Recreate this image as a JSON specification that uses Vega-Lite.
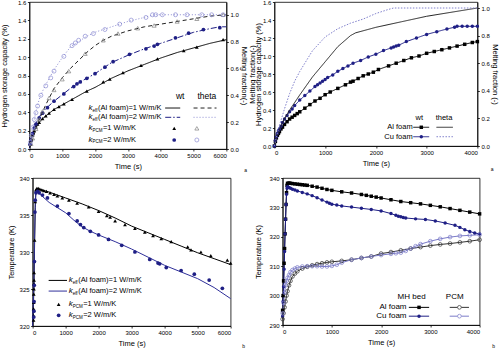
{
"$schema":"https://vega.github.io/schema/vega-lite/v6.json",
"padding":{"left":0,"top":-2,"right":0,"bottom":0},
"background":"white",
"config":{"font":"Liberation Sans","view":{"stroke":"#000","strokeWidth":0.8},
"axis":{"grid":false,"domainColor":"#000","tickColor":"#000","labelColor":"#000","titleColor":"#000","labelFontSize":6,"titleFontSize":7.5,"titleFontWeight":"normal","tickSize":2,"labelPadding":1.5,"titlePadding":4,"domainWidth":0.8,"tickWidth":0.8,"labelFont":"Liberation Sans","titleFont":"Liberation Sans"}},
"datasets":{
"p1wt":[
{"t":0,"v":0,"s":"wt1"},{"t":50,"v":0.1,"s":"wt1"},{"t":100,"v":0.16,"s":"wt1"},{"t":200,"v":0.24,"s":"wt1"},{"t":300,"v":0.29,"s":"wt1"},{"t":400,"v":0.33,"s":"wt1"},{"t":500,"v":0.36,"s":"wt1"},{"t":750,"v":0.43,"s":"wt1"},{"t":1000,"v":0.48,"s":"wt1"},{"t":1250,"v":0.53,"s":"wt1"},{"t":1500,"v":0.58,"s":"wt1"},{"t":1750,"v":0.63,"s":"wt1"},{"t":2000,"v":0.67,"s":"wt1"},{"t":2250,"v":0.72,"s":"wt1"},{"t":2500,"v":0.77,"s":"wt1"},{"t":3000,"v":0.85,"s":"wt1"},{"t":3500,"v":0.92,"s":"wt1"},{"t":4000,"v":0.99,"s":"wt1"},{"t":4500,"v":1.05,"s":"wt1"},{"t":5000,"v":1.1,"s":"wt1"},{"t":5500,"v":1.15,"s":"wt1"},{"t":6000,"v":1.19,"s":"wt1"},
{"t":0,"v":0,"s":"wt2"},{"t":50,"v":0.1,"s":"wt2"},{"t":100,"v":0.18,"s":"wt2"},{"t":200,"v":0.28,"s":"wt2"},{"t":300,"v":0.35,"s":"wt2"},{"t":400,"v":0.4,"s":"wt2"},{"t":500,"v":0.44,"s":"wt2"},{"t":750,"v":0.52,"s":"wt2"},{"t":1000,"v":0.59,"s":"wt2"},{"t":1250,"v":0.66,"s":"wt2"},{"t":1500,"v":0.72,"s":"wt2"},{"t":1750,"v":0.77,"s":"wt2"},{"t":2000,"v":0.82,"s":"wt2"},{"t":2250,"v":0.88,"s":"wt2"},{"t":2500,"v":0.94,"s":"wt2"},{"t":3000,"v":1.02,"s":"wt2"},{"t":3500,"v":1.09,"s":"wt2"},{"t":4000,"v":1.15,"s":"wt2"},{"t":4500,"v":1.21,"s":"wt2"},{"t":5000,"v":1.27,"s":"wt2"},{"t":5500,"v":1.31,"s":"wt2"},{"t":5800,"v":1.33,"s":"wt2"},{"t":6000,"v":1.33,"s":"wt2"}],
"p1th":[
{"t":0,"v":0,"s":"th1"},{"t":100,"v":0.07,"s":"th1"},{"t":200,"v":0.15,"s":"th1"},{"t":300,"v":0.22,"s":"th1"},{"t":500,"v":0.33,"s":"th1"},{"t":750,"v":0.45,"s":"th1"},{"t":1000,"v":0.53,"s":"th1"},{"t":1250,"v":0.6,"s":"th1"},{"t":1500,"v":0.66,"s":"th1"},{"t":1750,"v":0.72,"s":"th1"},{"t":2000,"v":0.77,"s":"th1"},{"t":2250,"v":0.81,"s":"th1"},{"t":2500,"v":0.84,"s":"th1"},{"t":3000,"v":0.88,"s":"th1"},{"t":3500,"v":0.91,"s":"th1"},{"t":4000,"v":0.93,"s":"th1"},{"t":4500,"v":0.95,"s":"th1"},{"t":5000,"v":0.97,"s":"th1"},{"t":5500,"v":0.99,"s":"th1"},{"t":6000,"v":1.0,"s":"th1"},
{"t":0,"v":0,"s":"th2"},{"t":50,"v":0.08,"s":"th2"},{"t":100,"v":0.16,"s":"th2"},{"t":200,"v":0.28,"s":"th2"},{"t":300,"v":0.37,"s":"th2"},{"t":400,"v":0.43,"s":"th2"},{"t":500,"v":0.48,"s":"th2"},{"t":750,"v":0.59,"s":"th2"},{"t":1000,"v":0.68,"s":"th2"},{"t":1250,"v":0.76,"s":"th2"},{"t":1500,"v":0.8,"s":"th2"},{"t":1750,"v":0.84,"s":"th2"},{"t":2000,"v":0.87,"s":"th2"},{"t":2500,"v":0.91,"s":"th2"},{"t":3000,"v":0.95,"s":"th2"},{"t":3500,"v":0.98,"s":"th2"},{"t":3800,"v":1.0,"s":"th2"},{"t":6000,"v":1.0,"s":"th2"}],
"p1wtp":[
{"t":30,"v":0.05,"s":"wt1"},{"t":60,"v":0.1,"s":"wt1"},{"t":100,"v":0.15,"s":"wt1"},{"t":150,"v":0.2,"s":"wt1"},{"t":200,"v":0.24,"s":"wt1"},{"t":250,"v":0.27,"s":"wt1"},{"t":300,"v":0.29,"s":"wt1"},{"t":400,"v":0.33,"s":"wt1"},{"t":500,"v":0.36,"s":"wt1"},{"t":600,"v":0.39,"s":"wt1"},{"t":750,"v":0.43,"s":"wt1"},{"t":900,"v":0.46,"s":"wt1"},{"t":1050,"v":0.49,"s":"wt1"},{"t":1300,"v":0.54,"s":"wt1"},{"t":1750,"v":0.63,"s":"wt1"},{"t":2250,"v":0.73,"s":"wt1"},{"t":2450,"v":0.76,"s":"wt1"},{"t":2850,"v":0.83,"s":"wt1"},{"t":3400,"v":0.91,"s":"wt1"},{"t":3900,"v":0.98,"s":"wt1"},{"t":4700,"v":1.07,"s":"wt1"},{"t":5100,"v":1.11,"s":"wt1"},{"t":5900,"v":1.19,"s":"wt1"},
{"t":20,"v":0.05,"s":"wt2"},{"t":50,"v":0.1,"s":"wt2"},{"t":100,"v":0.17,"s":"wt2"},{"t":150,"v":0.23,"s":"wt2"},{"t":200,"v":0.27,"s":"wt2"},{"t":300,"v":0.34,"s":"wt2"},{"t":400,"v":0.39,"s":"wt2"},{"t":550,"v":0.45,"s":"wt2"},{"t":750,"v":0.52,"s":"wt2"},{"t":1050,"v":0.6,"s":"wt2"},{"t":1350,"v":0.68,"s":"wt2"},{"t":1450,"v":0.71,"s":"wt2"},{"t":1550,"v":0.73,"s":"wt2"},{"t":1750,"v":0.77,"s":"wt2"},{"t":2000,"v":0.82,"s":"wt2"},{"t":2300,"v":0.89,"s":"wt2"},{"t":2550,"v":0.95,"s":"wt2"},{"t":3050,"v":1.03,"s":"wt2"},{"t":3550,"v":1.09,"s":"wt2"},{"t":3800,"v":1.12,"s":"wt2"},{"t":3900,"v":1.14,"s":"wt2"},{"t":4450,"v":1.21,"s":"wt2"},{"t":4850,"v":1.26,"s":"wt2"},{"t":5300,"v":1.3,"s":"wt2"},{"t":5800,"v":1.32,"s":"wt2"}],
"p1thp":[
{"t":50,"v":0.04,"s":"th1p"},{"t":100,"v":0.08,"s":"th1p"},{"t":200,"v":0.15,"s":"th1p"},{"t":300,"v":0.22,"s":"th1p"},{"t":400,"v":0.28,"s":"th1p"},{"t":600,"v":0.38,"s":"th1p"},{"t":750,"v":0.44,"s":"th1p"},{"t":1000,"v":0.52,"s":"th1p"},{"t":1200,"v":0.58,"s":"th1p"},{"t":1700,"v":0.71,"s":"th1p"},{"t":2250,"v":0.81,"s":"th1p"},{"t":2700,"v":0.86,"s":"th1p"},{"t":3300,"v":0.9,"s":"th1p"},{"t":3800,"v":0.92,"s":"th1p"},{"t":4500,"v":0.95,"s":"th1p"},{"t":5100,"v":0.97,"s":"th1p"},{"t":5900,"v":1.0,"s":"th1p"},
{"t":30,"v":0.05,"s":"th2p"},{"t":60,"v":0.1,"s":"th2p"},{"t":100,"v":0.16,"s":"th2p"},{"t":150,"v":0.22,"s":"th2p"},{"t":200,"v":0.27,"s":"th2p"},{"t":250,"v":0.32,"s":"th2p"},{"t":350,"v":0.4,"s":"th2p"},{"t":500,"v":0.47,"s":"th2p"},{"t":650,"v":0.53,"s":"th2p"},{"t":750,"v":0.58,"s":"th2p"},{"t":1050,"v":0.69,"s":"th2p"},{"t":1300,"v":0.77,"s":"th2p"},{"t":1400,"v":0.79,"s":"th2p"},{"t":1500,"v":0.81,"s":"th2p"},{"t":1700,"v":0.84,"s":"th2p"},{"t":1950,"v":0.86,"s":"th2p"},{"t":2300,"v":0.89,"s":"th2p"},{"t":2750,"v":0.93,"s":"th2p"},{"t":3100,"v":0.96,"s":"th2p"},{"t":3550,"v":0.98,"s":"th2p"},{"t":3750,"v":1.0,"s":"th2p"},{"t":3850,"v":1.0,"s":"th2p"},{"t":4050,"v":1.0,"s":"th2p"},{"t":4450,"v":1.0,"s":"th2p"},{"t":4800,"v":1.0,"s":"th2p"},{"t":5250,"v":1.0,"s":"th2p"},{"t":5550,"v":1.0,"s":"th2p"},{"t":5900,"v":1.0,"s":"th2p"}],
"p1legline":[{"t":4137,"t2":4594,"v":0.446,"s":"wt1"},{"t":5000,"t2":5700,"v":0.446,"s":"th1"},{"t":4137,"t2":4594,"v":0.345,"s":"wt2"},{"t":5000,"t2":5700,"v":0.345,"s":"th2"}],
"p1legpf":[{"t":4411,"v":0.225,"s":"wt1"},{"t":4411,"v":0.098,"s":"wt2"}],
"p1legpo":[{"t":5100,"v":0.225,"s":"th1p"},{"t":5100,"v":0.098,"s":"th2p"}],
"p1head":[{"t":4594,"v":0.58,"label":"wt"},{"t":5405,"v":0.58,"label":"theta"}],
"p1legtext":[{"t":1800,"v":0.446,"sub":"eff","rest":"(Al foam)=1 W/m/K","kind":"eff"},{"t":1800,"v":0.345,"sub":"eff","rest":"(Al foam)=2 W/m/K","kind":"eff"},{"t":1800,"v":0.225,"sub":"PCM","rest":"=1 W/m/K","kind":"pcm"},{"t":1800,"v":0.098,"sub":"PCM","rest":"=2 W/m/K","kind":"pcm"}],
"p1tag":[{"t":6585,"v":-0.23,"label":"a"}],
"p2wt":[
{"t":0,"v":0,"s":"Al"},{"t":20,"v":0.05,"s":"Al"},{"t":40,"v":0.09,"s":"Al"},{"t":60,"v":0.12,"s":"Al"},{"t":80,"v":0.14,"s":"Al"},{"t":100,"v":0.16,"s":"Al"},{"t":130,"v":0.19,"s":"Al"},{"t":160,"v":0.21,"s":"Al"},{"t":200,"v":0.24,"s":"Al"},{"t":250,"v":0.27,"s":"Al"},{"t":300,"v":0.3,"s":"Al"},{"t":350,"v":0.32,"s":"Al"},{"t":400,"v":0.34,"s":"Al"},{"t":450,"v":0.36,"s":"Al"},{"t":500,"v":0.38,"s":"Al"},{"t":600,"v":0.42,"s":"Al"},{"t":700,"v":0.46,"s":"Al"},{"t":800,"v":0.5,"s":"Al"},{"t":900,"v":0.53,"s":"Al"},{"t":1000,"v":0.57,"s":"Al"},{"t":1100,"v":0.6,"s":"Al"},{"t":1250,"v":0.64,"s":"Al"},{"t":1400,"v":0.68,"s":"Al"},{"t":1500,"v":0.71,"s":"Al"},{"t":1550,"v":0.72,"s":"Al"},{"t":1650,"v":0.75,"s":"Al"},{"t":1750,"v":0.78,"s":"Al"},{"t":1850,"v":0.8,"s":"Al"},{"t":1950,"v":0.82,"s":"Al"},{"t":2050,"v":0.85,"s":"Al"},{"t":2250,"v":0.89,"s":"Al"},{"t":2400,"v":0.92,"s":"Al"},{"t":2550,"v":0.95,"s":"Al"},{"t":2700,"v":0.98,"s":"Al"},{"t":2850,"v":1.0,"s":"Al"},{"t":3000,"v":1.03,"s":"Al"},{"t":3150,"v":1.05,"s":"Al"},{"t":3300,"v":1.07,"s":"Al"},{"t":3450,"v":1.09,"s":"Al"},{"t":3600,"v":1.11,"s":"Al"},{"t":3750,"v":1.13,"s":"Al"},{"t":3900,"v":1.15,"s":"Al"},{"t":4000,"v":1.16,"s":"Al"},
{"t":0,"v":0,"s":"Cu"},{"t":20,"v":0.06,"s":"Cu"},{"t":40,"v":0.1,"s":"Cu"},{"t":60,"v":0.14,"s":"Cu"},{"t":80,"v":0.17,"s":"Cu"},{"t":100,"v":0.19,"s":"Cu"},{"t":130,"v":0.22,"s":"Cu"},{"t":160,"v":0.26,"s":"Cu"},{"t":200,"v":0.3,"s":"Cu"},{"t":250,"v":0.34,"s":"Cu"},{"t":300,"v":0.38,"s":"Cu"},{"t":350,"v":0.41,"s":"Cu"},{"t":400,"v":0.45,"s":"Cu"},{"t":500,"v":0.51,"s":"Cu"},{"t":600,"v":0.56,"s":"Cu"},{"t":700,"v":0.61,"s":"Cu"},{"t":800,"v":0.66,"s":"Cu"},{"t":850,"v":0.68,"s":"Cu"},{"t":900,"v":0.7,"s":"Cu"},{"t":950,"v":0.72,"s":"Cu"},{"t":1000,"v":0.74,"s":"Cu"},{"t":1050,"v":0.76,"s":"Cu"},{"t":1150,"v":0.79,"s":"Cu"},{"t":1250,"v":0.83,"s":"Cu"},{"t":1350,"v":0.86,"s":"Cu"},{"t":1450,"v":0.89,"s":"Cu"},{"t":1550,"v":0.92,"s":"Cu"},{"t":1700,"v":0.95,"s":"Cu"},{"t":1850,"v":0.99,"s":"Cu"},{"t":2000,"v":1.02,"s":"Cu"},{"t":2150,"v":1.06,"s":"Cu"},{"t":2300,"v":1.09,"s":"Cu"},{"t":2350,"v":1.1,"s":"Cu"},{"t":2400,"v":1.11,"s":"Cu"},{"t":2450,"v":1.12,"s":"Cu"},{"t":2600,"v":1.16,"s":"Cu"},{"t":2800,"v":1.2,"s":"Cu"},{"t":3000,"v":1.24,"s":"Cu"},{"t":3200,"v":1.27,"s":"Cu"},{"t":3400,"v":1.3,"s":"Cu"},{"t":3550,"v":1.32,"s":"Cu"},{"t":3600,"v":1.33,"s":"Cu"},{"t":3700,"v":1.33,"s":"Cu"},{"t":3800,"v":1.33,"s":"Cu"},{"t":3900,"v":1.33,"s":"Cu"},{"t":4000,"v":1.33,"s":"Cu"}],
"p2th":[
{"t":0,"v":0,"s":"thAl"},{"t":50,"v":0.07,"s":"thAl"},{"t":100,"v":0.12,"s":"thAl"},{"t":200,"v":0.2,"s":"thAl"},{"t":300,"v":0.26,"s":"thAl"},{"t":500,"v":0.37,"s":"thAl"},{"t":750,"v":0.5,"s":"thAl"},{"t":1000,"v":0.61,"s":"thAl"},{"t":1250,"v":0.72,"s":"thAl"},{"t":1500,"v":0.8,"s":"thAl"},{"t":1600,"v":0.82,"s":"thAl"},{"t":2000,"v":0.86,"s":"thAl"},{"t":2500,"v":0.9,"s":"thAl"},{"t":3000,"v":0.94,"s":"thAl"},{"t":3500,"v":0.97,"s":"thAl"},{"t":4000,"v":1.0,"s":"thAl"},
{"t":0,"v":0,"s":"thCu"},{"t":50,"v":0.08,"s":"thCu"},{"t":100,"v":0.15,"s":"thCu"},{"t":200,"v":0.27,"s":"thCu"},{"t":300,"v":0.38,"s":"thCu"},{"t":400,"v":0.47,"s":"thCu"},{"t":500,"v":0.54,"s":"thCu"},{"t":750,"v":0.69,"s":"thCu"},{"t":1000,"v":0.79,"s":"thCu"},{"t":1250,"v":0.85,"s":"thCu"},{"t":1500,"v":0.89,"s":"thCu"},{"t":1750,"v":0.92,"s":"thCu"},{"t":2000,"v":0.96,"s":"thCu"},{"t":2250,"v":0.99,"s":"thCu"},{"t":2350,"v":1.0,"s":"thCu"},{"t":4000,"v":1.0,"s":"thCu"}],
"p2legline":[{"t":2738,"t2":3050,"v":0.208,"s":"Al"},{"t":3194,"t2":3518,"v":0.208,"s":"thAl"},{"t":2738,"t2":3050,"v":0.103,"s":"Cu"},{"t":3194,"t2":3518,"v":0.103,"s":"thCu"}],
"p2legpt":[{"t":2895,"v":0.208,"s":"Al"},{"t":2895,"v":0.103,"s":"Cu"}],
"p2head":[{"t":2855,"v":0.311,"label":"wt"},{"t":3343,"v":0.311,"label":"theta"}],
"p2legtext":[{"t":2725,"v":0.208,"label":"Al foam"},{"t":2725,"v":0.103,"label":"Cu foam"}],
"p2tag":[{"t":4293,"v":-0.26,"label":"a"}],
"p3line":[
{"t":0,"v":320,"s":"k1"},{"t":40,"v":325,"s":"k1"},{"t":60,"v":331,"s":"k1"},{"t":80,"v":336,"s":"k1"},{"t":100,"v":338.4,"s":"k1"},{"t":130,"v":338.6,"s":"k1"},{"t":200,"v":338.5,"s":"k1"},{"t":500,"v":338.1,"s":"k1"},{"t":1000,"v":337.3,"s":"k1"},{"t":1500,"v":336.5,"s":"k1"},{"t":2000,"v":335.6,"s":"k1"},{"t":2500,"v":334.6,"s":"k1"},{"t":3000,"v":333.5,"s":"k1"},{"t":3500,"v":332.6,"s":"k1"},{"t":4000,"v":331.7,"s":"k1"},{"t":4500,"v":330.8,"s":"k1"},{"t":5000,"v":329.9,"s":"k1"},{"t":5500,"v":329.1,"s":"k1"},{"t":6000,"v":328.3,"s":"k1"},
{"t":0,"v":320,"s":"k2"},{"t":40,"v":326,"s":"k2"},{"t":60,"v":332,"s":"k2"},{"t":80,"v":336.5,"s":"k2"},{"t":100,"v":338.2,"s":"k2"},{"t":150,"v":338.2,"s":"k2"},{"t":200,"v":337.9,"s":"k2"},{"t":300,"v":337.5,"s":"k2"},{"t":500,"v":336.7,"s":"k2"},{"t":750,"v":336,"s":"k2"},{"t":1000,"v":335.3,"s":"k2"},{"t":1250,"v":334.3,"s":"k2"},{"t":1500,"v":333.4,"s":"k2"},{"t":1750,"v":332.8,"s":"k2"},{"t":2000,"v":332.3,"s":"k2"},{"t":2500,"v":331.4,"s":"k2"},{"t":3000,"v":330.4,"s":"k2"},{"t":3500,"v":329.3,"s":"k2"},{"t":4000,"v":328.2,"s":"k2"},{"t":4500,"v":327.3,"s":"k2"},{"t":5000,"v":326.4,"s":"k2"},{"t":5500,"v":325.2,"s":"k2"},{"t":6000,"v":323.7,"s":"k2"}],
"p3pts":[
{"t":30,"v":320.8,"s":"k1p"},{"t":30,"v":321.4,"s":"k1p"},{"t":30,"v":322.3,"s":"k1p"},{"t":35,"v":323.2,"s":"k1p"},{"t":35,"v":324.3,"s":"k1p"},{"t":40,"v":325,"s":"k1p"},{"t":40,"v":325.7,"s":"k1p"},{"t":45,"v":326.2,"s":"k1p"},{"t":45,"v":327.2,"s":"k1p"},{"t":60,"v":331.6,"s":"k1p"},{"t":80,"v":336.8,"s":"k1p"},{"t":100,"v":338.4,"s":"k1p"},{"t":130,"v":338.6,"s":"k1p"},{"t":170,"v":338.6,"s":"k1p"},{"t":220,"v":338.5,"s":"k1p"},{"t":280,"v":338.4,"s":"k1p"},{"t":340,"v":338.3,"s":"k1p"},{"t":420,"v":338.2,"s":"k1p"},{"t":530,"v":338.0,"s":"k1p"},{"t":650,"v":337.8,"s":"k1p"},{"t":750,"v":337.6,"s":"k1p"},{"t":900,"v":337.3,"s":"k1p"},{"t":1100,"v":337.0,"s":"k1p"},{"t":1350,"v":336.6,"s":"k1p"},{"t":1700,"v":336.1,"s":"k1p"},{"t":2000,"v":335.5,"s":"k1p"},{"t":2250,"v":334.9,"s":"k1p"},{"t":2350,"v":334.7,"s":"k1p"},{"t":2500,"v":334.2,"s":"k1p"},{"t":2800,"v":333.7,"s":"k1p"},{"t":3100,"v":333.2,"s":"k1p"},{"t":3400,"v":332.7,"s":"k1p"},{"t":3650,"v":332.2,"s":"k1p"},{"t":3900,"v":331.8,"s":"k1p"},{"t":4200,"v":331.4,"s":"k1p"},{"t":4700,"v":330.7,"s":"k1p"},{"t":4800,"v":330.3,"s":"k1p"},{"t":5100,"v":330.0,"s":"k1p"},{"t":5400,"v":329.5,"s":"k1p"},{"t":5900,"v":328.9,"s":"k1p"},{"t":6000,"v":328.5,"s":"k1p"},
{"t":35,"v":321.2,"s":"k2p"},{"t":40,"v":322,"s":"k2p"},{"t":45,"v":323.3,"s":"k2p"},{"t":50,"v":325.5,"s":"k2p"},{"t":55,"v":328.7,"s":"k2p"},{"t":70,"v":335.4,"s":"k2p"},{"t":80,"v":337,"s":"k2p"},{"t":100,"v":338,"s":"k2p"},{"t":150,"v":338.2,"s":"k2p"},{"t":200,"v":338,"s":"k2p"},{"t":300,"v":337.7,"s":"k2p"},{"t":450,"v":337.3,"s":"k2p"},{"t":750,"v":336.2,"s":"k2p"},{"t":1100,"v":335.2,"s":"k2p"},{"t":1350,"v":334.2,"s":"k2p"},{"t":1450,"v":333.7,"s":"k2p"},{"t":1550,"v":333.3,"s":"k2p"},{"t":1750,"v":332.8,"s":"k2p"},{"t":2000,"v":332.3,"s":"k2p"},{"t":2300,"v":331.7,"s":"k2p"},{"t":2700,"v":330.9,"s":"k2p"},{"t":3100,"v":330.0,"s":"k2p"},{"t":3550,"v":329.0,"s":"k2p"},{"t":3800,"v":328.5,"s":"k2p"},{"t":3850,"v":328.4,"s":"k2p"},{"t":4050,"v":327.9,"s":"k2p"},{"t":4500,"v":327.5,"s":"k2p"},{"t":4900,"v":327.0,"s":"k2p"},{"t":5350,"v":326.2,"s":"k2p"},{"t":5750,"v":325.1,"s":"k2p"}],
"p3legline":[{"t":486,"t2":1042,"v":326.16,"s":"k1"},{"t":486,"t2":1042,"v":324.72,"s":"k2"}],
"p3legpt":[{"t":789,"v":322.92,"s":"k1p"},{"t":789,"v":321.44,"s":"k2p"}],
"p3legtext":[{"t":1093,"v":326.16,"sub":"eff","rest":"(Al foam)=1 W/m/K","kind":"eff"},{"t":1093,"v":324.72,"sub":"eff","rest":"(Al foam)=2 W/m/K","kind":"eff"},{"t":1093,"v":322.92,"sub":"PCM","rest":"=1 W/m/K","kind":"pcm"},{"t":1093,"v":321.44,"sub":"PCM","rest":"=2 W/m/K","kind":"pcm"}],
"p3tag":[{"t":6394,"v":317.3,"label":"b"}],
"p4":[
{"t":0,"v":295,"s":"mhAl"},{"t":10,"v":300,"s":"mhAl"},{"t":20,"v":305,"s":"mhAl"},{"t":30,"v":311,"s":"mhAl"},{"t":40,"v":316,"s":"mhAl"},{"t":50,"v":321,"s":"mhAl"},{"t":60,"v":326,"s":"mhAl"},{"t":70,"v":331,"s":"mhAl"},{"t":80,"v":335,"s":"mhAl"},{"t":90,"v":337.5,"s":"mhAl"},{"t":100,"v":338.2,"s":"mhAl"},{"t":130,"v":338.3,"s":"mhAl"},{"t":160,"v":338.2,"s":"mhAl"},{"t":200,"v":338.1,"s":"mhAl"},{"t":250,"v":338,"s":"mhAl"},{"t":300,"v":337.9,"s":"mhAl"},{"t":350,"v":337.8,"s":"mhAl"},{"t":400,"v":337.7,"s":"mhAl"},{"t":450,"v":337.6,"s":"mhAl"},{"t":500,"v":337.5,"s":"mhAl"},{"t":600,"v":337.2,"s":"mhAl"},{"t":700,"v":336.9,"s":"mhAl"},{"t":800,"v":336.5,"s":"mhAl"},{"t":900,"v":336.1,"s":"mhAl"},{"t":1000,"v":335.8,"s":"mhAl"},{"t":1200,"v":335.3,"s":"mhAl"},{"t":1400,"v":334.9,"s":"mhAl"},{"t":1600,"v":334.4,"s":"mhAl"},{"t":1700,"v":334.1,"s":"mhAl"},{"t":1800,"v":333.8,"s":"mhAl"},{"t":1900,"v":333.5,"s":"mhAl"},{"t":2000,"v":333.2,"s":"mhAl"},{"t":2200,"v":332.6,"s":"mhAl"},{"t":2400,"v":332.0,"s":"mhAl"},{"t":2600,"v":331.6,"s":"mhAl"},{"t":2800,"v":331.2,"s":"mhAl"},{"t":3000,"v":330.7,"s":"mhAl"},{"t":3200,"v":330.2,"s":"mhAl"},{"t":3400,"v":329.6,"s":"mhAl"},{"t":3600,"v":329.0,"s":"mhAl"},{"t":3800,"v":328.4,"s":"mhAl"},{"t":4000,"v":327.8,"s":"mhAl"},
{"t":0,"v":293,"s":"mhCu"},{"t":10,"v":298,"s":"mhCu"},{"t":20,"v":303,"s":"mhCu"},{"t":30,"v":309,"s":"mhCu"},{"t":40,"v":315,"s":"mhCu"},{"t":50,"v":321,"s":"mhCu"},{"t":60,"v":326,"s":"mhCu"},{"t":70,"v":331,"s":"mhCu"},{"t":80,"v":334.5,"s":"mhCu"},{"t":90,"v":336.5,"s":"mhCu"},{"t":100,"v":337,"s":"mhCu"},{"t":130,"v":336.8,"s":"mhCu"},{"t":160,"v":336.5,"s":"mhCu"},{"t":200,"v":336.2,"s":"mhCu"},{"t":250,"v":335.9,"s":"mhCu"},{"t":300,"v":335.6,"s":"mhCu"},{"t":400,"v":335.1,"s":"mhCu"},{"t":500,"v":334.6,"s":"mhCu"},{"t":600,"v":334.0,"s":"mhCu"},{"t":700,"v":333.3,"s":"mhCu"},{"t":800,"v":332.5,"s":"mhCu"},{"t":900,"v":331.8,"s":"mhCu"},{"t":950,"v":331.4,"s":"mhCu"},{"t":1000,"v":331.1,"s":"mhCu"},{"t":1100,"v":330.8,"s":"mhCu"},{"t":1200,"v":330.5,"s":"mhCu"},{"t":1400,"v":330.1,"s":"mhCu"},{"t":1600,"v":329.7,"s":"mhCu"},{"t":1800,"v":329.3,"s":"mhCu"},{"t":2000,"v":328.8,"s":"mhCu"},{"t":2200,"v":327.9,"s":"mhCu"},{"t":2300,"v":327.3,"s":"mhCu"},{"t":2350,"v":327.0,"s":"mhCu"},{"t":2400,"v":326.8,"s":"mhCu"},{"t":2450,"v":326.6,"s":"mhCu"},{"t":2500,"v":326.4,"s":"mhCu"},{"t":2700,"v":326.1,"s":"mhCu"},{"t":2900,"v":325.9,"s":"mhCu"},{"t":3100,"v":325.4,"s":"mhCu"},{"t":3300,"v":324.7,"s":"mhCu"},{"t":3500,"v":323.9,"s":"mhCu"},{"t":3600,"v":323.2,"s":"mhCu"},{"t":3700,"v":322.4,"s":"mhCu"},{"t":3800,"v":321.8,"s":"mhCu"},{"t":3900,"v":321.3,"s":"mhCu"},{"t":4000,"v":321.0,"s":"mhCu"},
{"t":0,"v":292,"s":"pcmAl"},{"t":20,"v":294,"s":"pcmAl"},{"t":40,"v":296,"s":"pcmAl"},{"t":60,"v":298,"s":"pcmAl"},{"t":80,"v":300,"s":"pcmAl"},{"t":100,"v":301.5,"s":"pcmAl"},{"t":130,"v":303.5,"s":"pcmAl"},{"t":160,"v":305,"s":"pcmAl"},{"t":200,"v":306.5,"s":"pcmAl"},{"t":250,"v":307.5,"s":"pcmAl"},{"t":300,"v":308.3,"s":"pcmAl"},{"t":400,"v":309.2,"s":"pcmAl"},{"t":500,"v":309.8,"s":"pcmAl"},{"t":600,"v":310.3,"s":"pcmAl"},{"t":700,"v":310.7,"s":"pcmAl"},{"t":800,"v":311,"s":"pcmAl"},{"t":900,"v":311.3,"s":"pcmAl"},{"t":1000,"v":311.5,"s":"pcmAl"},{"t":1200,"v":311.8,"s":"pcmAl"},{"t":1400,"v":312.2,"s":"pcmAl"},{"t":1600,"v":312.8,"s":"pcmAl"},{"t":1800,"v":313.3,"s":"pcmAl"},{"t":2000,"v":314.3,"s":"pcmAl"},{"t":2200,"v":314.8,"s":"pcmAl"},{"t":2400,"v":315.4,"s":"pcmAl"},{"t":2600,"v":316,"s":"pcmAl"},{"t":2800,"v":316.5,"s":"pcmAl"},{"t":3000,"v":317,"s":"pcmAl"},{"t":3200,"v":317.4,"s":"pcmAl"},{"t":3400,"v":317.7,"s":"pcmAl"},{"t":3600,"v":318.1,"s":"pcmAl"},{"t":3800,"v":318.5,"s":"pcmAl"},{"t":4000,"v":319,"s":"pcmAl"},
{"t":0,"v":294,"s":"pcmCu"},{"t":20,"v":297.5,"s":"pcmCu"},{"t":40,"v":301,"s":"pcmCu"},{"t":60,"v":303.5,"s":"pcmCu"},{"t":80,"v":305,"s":"pcmCu"},{"t":100,"v":306,"s":"pcmCu"},{"t":130,"v":307,"s":"pcmCu"},{"t":160,"v":308,"s":"pcmCu"},{"t":200,"v":308.7,"s":"pcmCu"},{"t":250,"v":309.2,"s":"pcmCu"},{"t":300,"v":309.6,"s":"pcmCu"},{"t":400,"v":309.9,"s":"pcmCu"},{"t":500,"v":310,"s":"pcmCu"},{"t":600,"v":310,"s":"pcmCu"},{"t":700,"v":310,"s":"pcmCu"},{"t":800,"v":309.9,"s":"pcmCu"},{"t":900,"v":309.9,"s":"pcmCu"},{"t":1000,"v":310.1,"s":"pcmCu"},{"t":1100,"v":310.5,"s":"pcmCu"},{"t":1200,"v":311.2,"s":"pcmCu"},{"t":1400,"v":312.2,"s":"pcmCu"},{"t":1600,"v":312.8,"s":"pcmCu"},{"t":1800,"v":313.3,"s":"pcmCu"},{"t":2000,"v":313.8,"s":"pcmCu"},{"t":2200,"v":314.2,"s":"pcmCu"},{"t":2300,"v":314.4,"s":"pcmCu"},{"t":2400,"v":314.6,"s":"pcmCu"},{"t":2500,"v":315.2,"s":"pcmCu"},{"t":2600,"v":316,"s":"pcmCu"},{"t":2700,"v":316.8,"s":"pcmCu"},{"t":2800,"v":317.5,"s":"pcmCu"},{"t":3000,"v":318.5,"s":"pcmCu"},{"t":3200,"v":319.3,"s":"pcmCu"},{"t":3400,"v":319.9,"s":"pcmCu"},{"t":3600,"v":320.3,"s":"pcmCu"},{"t":3800,"v":320.5,"s":"pcmCu"},{"t":4000,"v":320.7,"s":"pcmCu"}],
"p4legline":[{"t":2563,"t2":2975,"v":296,"s":"mhAl"},{"t":3393,"t2":3784,"v":296,"s":"pcmAl"},{"t":2563,"t2":2975,"v":293,"s":"mhCu"},{"t":3393,"t2":3784,"v":293,"s":"pcmCu"}],
"p4legpf":[{"t":2770,"v":296,"s":"mhAl"},{"t":2770,"v":293,"s":"mhCu"}],
"p4legpo":[{"t":3590,"v":296,"s":"pcmAl"},{"t":3590,"v":293,"s":"pcmCu"}],
"p4head":[{"t":2619,"v":299.5,"label":"MH bed"},{"t":3494,"v":299.5,"label":"PCM"}],
"p4legtext":[{"t":2516,"v":296,"label":"Al foam"},{"t":2516,"v":293,"label":"Cu foam"}],
"p4tag":[{"t":4284,"v":283,"label":"b"}]
},
"spacing":0,
"center":true,
"resolve":{"scale":{"color":"independent","strokeDash":"independent","shape":"independent"}},
"vconcat":[
{"hconcat":[
{"width":197,"height":147,
"resolve":{"scale":{"y":"independent"}},
"layer":[
{"encoding":{
"x":{"field":"t","type":"quantitative","scale":{"domain":[0,6000],"nice":false},"axis":{"title":"Time (s)","values":[0,1000,2000,3000,4000,5000,6000],"format":"d"}},
"y":{"field":"v","type":"quantitative","scale":{"domain":[0,1.6],"nice":false},"axis":{"title":"Hydrogen storage capacity (%)","values":[0,0.2,0.4,0.6,0.8,1.0,1.2,1.4,1.6],"format":".1f","titlePadding":9}}},
"layer":[
{"data":{"name":"p1wt"},"mark":{"type":"line","strokeWidth":1},
"encoding":{
"color":{"field":"s","type":"nominal","scale":{"domain":["wt1","wt2","th1","th2","th1p","th2p"],"range":["#000000","#1f1f85","#222222","#8c8cd2","#808080","#8c8cd2"]},"legend":null},
"strokeDash":{"field":"s","type":"nominal","scale":{"domain":["wt1","wt2","th1","th2"],"range":[[1,0],[6,2,1.5,2],[4,3],[1,2]]},"legend":null}}},
{"data":{"name":"p1wtp"},"mark":{"type":"point","filled":true,"size":14,"opacity":1},
"encoding":{
"color":{"field":"s","type":"nominal","scale":{"domain":["wt1","wt2","th1","th2","th1p","th2p"],"range":["#000000","#1f1f85","#222222","#8c8cd2","#808080","#8c8cd2"]},"legend":null},
"shape":{"field":"s","type":"nominal","scale":{"domain":["wt1","wt2","th1p","th2p"],"range":["triangle-up","circle","triangle-up","circle"]},"legend":null}}},
{"data":{"name":"p1legline"},"mark":{"type":"rule","strokeWidth":1},
"encoding":{"x2":{"field":"t2"},
"color":{"field":"s","type":"nominal","scale":{"domain":["wt1","wt2","th1","th2","th1p","th2p"],"range":["#000000","#1f1f85","#222222","#8c8cd2","#808080","#8c8cd2"]},"legend":null},
"strokeDash":{"field":"s","type":"nominal","scale":{"domain":["wt1","wt2","th1","th2"],"range":[[1,0],[6,2,1.5,2],[4,3],[1,2]]},"legend":null}}},
{"data":{"name":"p1legpf"},"mark":{"type":"point","filled":true,"size":14,"opacity":1},
"encoding":{
"color":{"field":"s","type":"nominal","scale":{"domain":["wt1","wt2","th1","th2","th1p","th2p"],"range":["#000000","#1f1f85","#222222","#8c8cd2","#808080","#8c8cd2"]},"legend":null},
"shape":{"field":"s","type":"nominal","scale":{"domain":["wt1","wt2","th1p","th2p"],"range":["triangle-up","circle","triangle-up","circle"]},"legend":null}}},
{"data":{"name":"p1legpo"},"mark":{"type":"point","filled":false,"size":16,"strokeWidth":0.7,"opacity":1},
"encoding":{
"color":{"field":"s","type":"nominal","scale":{"domain":["wt1","wt2","th1","th2","th1p","th2p"],"range":["#000000","#1f1f85","#222222","#8c8cd2","#808080","#8c8cd2"]},"legend":null},
"shape":{"field":"s","type":"nominal","scale":{"domain":["wt1","wt2","th1p","th2p"],"range":["triangle-up","circle","triangle-up","circle"]},"legend":null}}},
{"data":{"name":"p1head"},"mark":{"type":"text","align":"center","baseline":"middle","fontSize":8.5,"color":"#000"},
"encoding":{"text":{"field":"label"}}},
{"data":{"name":"p1legtext"},"mark":{"type":"text","text":"k","fontStyle":"italic","align":"left","baseline":"middle","fontSize":8,"color":"#000"},"encoding":{}},
{"data":{"name":"p1legtext"},"mark":{"type":"text","align":"left","baseline":"middle","fontSize":4.5,"dx":4,"dy":2.5,"color":"#000"},
"encoding":{"text":{"field":"sub"}}},
{"data":{"name":"p1legtext"},"transform":[{"filter":{"field":"kind","equal":"eff"}}],"mark":{"type":"text","align":"left","baseline":"middle","fontSize":7.5,"dx":9.5,"color":"#000"},
"encoding":{"text":{"field":"rest"}}},
{"data":{"name":"p1legtext"},"transform":[{"filter":{"field":"kind","equal":"pcm"}}],"mark":{"type":"text","align":"left","baseline":"middle","fontSize":7.5,"dx":14.5,"color":"#000"},
"encoding":{"text":{"field":"rest"}}},
{"data":{"name":"p1tag"},"mark":{"type":"text","align":"center","baseline":"middle","fontSize":5,"color":"#000"},
"encoding":{"text":{"field":"label"}}}
]},
{"encoding":{
"x":{"field":"t","type":"quantitative","scale":{"domain":[0,6000],"nice":false},"axis":{"title":"Time (s)","values":[0,1000,2000,3000,4000,5000,6000],"format":"d"}},
"y":{"field":"v","type":"quantitative","scale":{"domain":[0,1.095],"nice":false},"axis":{"orient":"right","title":"Melting fraction(-)","values":[0,0.2,0.4,0.6,0.8,1.0],"format":".1f","titlePadding":1.5}}},
"layer":[
{"data":{"name":"p1th"},"mark":{"type":"line","strokeWidth":1},
"encoding":{
"color":{"field":"s","type":"nominal","scale":{"domain":["wt1","wt2","th1","th2","th1p","th2p"],"range":["#000000","#1f1f85","#222222","#8c8cd2","#808080","#8c8cd2"]},"legend":null},
"strokeDash":{"field":"s","type":"nominal","scale":{"domain":["wt1","wt2","th1","th2"],"range":[[1,0],[6,2,1.5,2],[4,3],[1,2]]},"legend":null}}},
{"data":{"name":"p1thp"},"mark":{"type":"point","filled":false,"size":16,"strokeWidth":0.7,"opacity":1},
"encoding":{
"color":{"field":"s","type":"nominal","scale":{"domain":["wt1","wt2","th1","th2","th1p","th2p"],"range":["#000000","#1f1f85","#222222","#8c8cd2","#808080","#8c8cd2"]},"legend":null},
"shape":{"field":"s","type":"nominal","scale":{"domain":["wt1","wt2","th1p","th2p"],"range":["triangle-up","circle","triangle-up","circle"]},"legend":null}}}
]}
]},
{"width":203,"height":144,
"resolve":{"scale":{"y":"independent"}},
"layer":[
{"encoding":{
"x":{"field":"t","type":"quantitative","scale":{"domain":[0,4000],"nice":false},"axis":{"title":"Time (s)","values":[0,1000,2000,3000,4000],"format":"d"}},
"y":{"field":"v","type":"quantitative","scale":{"domain":[0,1.6],"nice":false},"axis":{"title":["Melting fraction(-)","Hydrogen storage capacity (%)"],"values":[0,0.2,0.4,0.6,0.8,1.0,1.2,1.4,1.6],"format":".1f","titlePadding":0,"titleLineHeight":6.5}}},
"layer":[
{"data":{"name":"p2wt"},"mark":{"type":"line","strokeWidth":1},
"encoding":{
"color":{"field":"s","type":"nominal","scale":{"domain":["Al","Cu","thAl","thCu"],"range":["#000000","#1f1f85","#222222","#8080cc"]},"legend":null},
"strokeDash":{"field":"s","type":"nominal","scale":{"domain":["Al","Cu","thAl","thCu"],"range":[[1,0],[1,0],[1,0],[1.5,1.5]]},"legend":null}}},
{"data":{"name":"p2wt"},"mark":{"type":"point","filled":true,"size":12,"opacity":1},
"encoding":{
"color":{"field":"s","type":"nominal","scale":{"domain":["Al","Cu","thAl","thCu"],"range":["#000000","#1f1f85","#222222","#8080cc"]},"legend":null},
"shape":{"field":"s","type":"nominal","scale":{"domain":["Al","Cu"],"range":["square","circle"]},"legend":null}}},
{"data":{"name":"p2legline"},"mark":{"type":"rule","strokeWidth":1},
"encoding":{"x2":{"field":"t2"},
"color":{"field":"s","type":"nominal","scale":{"domain":["Al","Cu","thAl","thCu"],"range":["#000000","#1f1f85","#222222","#8080cc"]},"legend":null},
"strokeDash":{"field":"s","type":"nominal","scale":{"domain":["Al","Cu","thAl","thCu"],"range":[[1,0],[1,0],[1,0],[1.5,1.5]]},"legend":null}}},
{"data":{"name":"p2legpt"},"mark":{"type":"point","filled":true,"size":12,"opacity":1},
"encoding":{
"color":{"field":"s","type":"nominal","scale":{"domain":["Al","Cu","thAl","thCu"],"range":["#000000","#1f1f85","#222222","#8080cc"]},"legend":null},
"shape":{"field":"s","type":"nominal","scale":{"domain":["Al","Cu"],"range":["square","circle"]},"legend":null}}},
{"data":{"name":"p2head"},"mark":{"type":"text","align":"center","baseline":"middle","fontSize":7.5,"color":"#000"},
"encoding":{"text":{"field":"label"}}},
{"data":{"name":"p2legtext"},"mark":{"type":"text","align":"right","baseline":"middle","fontSize":7.5,"color":"#000"},
"encoding":{"text":{"field":"label"}}},
{"data":{"name":"p2tag"},"mark":{"type":"text","align":"center","baseline":"middle","fontSize":5,"color":"#000"},
"encoding":{"text":{"field":"label"}}}
]},
{"encoding":{
"x":{"field":"t","type":"quantitative","scale":{"domain":[0,4000],"nice":false},"axis":{"title":"Time (s)","values":[0,1000,2000,3000,4000],"format":"d"}},
"y":{"field":"v","type":"quantitative","scale":{"domain":[0,1.0435],"nice":false},"axis":{"orient":"right","title":"Melting fraction (-)","values":[0,0.2,0.4,0.6,0.8,1.0],"format":".1f","titlePadding":1}}},
"layer":[
{"data":{"name":"p2th"},"mark":{"type":"line","strokeWidth":1},
"encoding":{
"color":{"field":"s","type":"nominal","scale":{"domain":["Al","Cu","thAl","thCu"],"range":["#000000","#1f1f85","#222222","#8080cc"]},"legend":null},
"strokeDash":{"field":"s","type":"nominal","scale":{"domain":["Al","Cu","thAl","thCu"],"range":[[1,0],[1,0],[1,0],[1.5,1.5]]},"legend":null}}}
]}
]}
],"spacing":-1,"resolve":{"scale":{"color":"independent","strokeDash":"independent","shape":"independent"}}},
{"hconcat":[
{"width":198,"height":148,
"encoding":{
"x":{"field":"t","type":"quantitative","scale":{"domain":[0,6000],"nice":false},"axis":{"title":"Time (s)","values":[0,1000,2000,3000,4000,5000,6000],"format":"d"}},
"y":{"field":"v","type":"quantitative","scale":{"domain":[320,340],"nice":false,"zero":false},"axis":{"title":"Temperature (K)","values":[320,325,330,335,340],"titlePadding":4}}},
"layer":[
{"data":{"name":"p3line"},"mark":{"type":"line","strokeWidth":1},
"encoding":{
"color":{"field":"s","type":"nominal","scale":{"domain":["k1","k2","k1p","k2p"],"range":["#000000","#30309a","#000000","#1f1f85"]},"legend":null}}},
{"data":{"name":"p3pts"},"mark":{"type":"point","filled":true,"size":14,"opacity":1},
"encoding":{
"color":{"field":"s","type":"nominal","scale":{"domain":["k1","k2","k1p","k2p"],"range":["#000000","#30309a","#000000","#1f1f85"]},"legend":null},
"shape":{"field":"s","type":"nominal","scale":{"domain":["k1p","k2p"],"range":["triangle-up","circle"]},"legend":null}}},
{"data":{"name":"p3legline"},"mark":{"type":"rule","strokeWidth":1},
"encoding":{"x2":{"field":"t2"},
"color":{"field":"s","type":"nominal","scale":{"domain":["k1","k2","k1p","k2p"],"range":["#000000","#30309a","#000000","#1f1f85"]},"legend":null}}},
{"data":{"name":"p3legpt"},"mark":{"type":"point","filled":true,"size":14,"opacity":1},
"encoding":{
"color":{"field":"s","type":"nominal","scale":{"domain":["k1","k2","k1p","k2p"],"range":["#000000","#30309a","#000000","#1f1f85"]},"legend":null},
"shape":{"field":"s","type":"nominal","scale":{"domain":["k1p","k2p"],"range":["triangle-up","circle"]},"legend":null}}},
{"data":{"name":"p3legtext"},"mark":{"type":"text","text":"k","fontStyle":"italic","align":"left","baseline":"middle","fontSize":8,"color":"#000"},"encoding":{}},
{"data":{"name":"p3legtext"},"mark":{"type":"text","align":"left","baseline":"middle","fontSize":4.5,"dx":4,"dy":2.5,"color":"#000"},
"encoding":{"text":{"field":"sub"}}},
{"data":{"name":"p3legtext"},"transform":[{"filter":{"field":"kind","equal":"eff"}}],"mark":{"type":"text","align":"left","baseline":"middle","fontSize":7.5,"dx":9.5,"color":"#000"},
"encoding":{"text":{"field":"rest"}}},
{"data":{"name":"p3legtext"},"transform":[{"filter":{"field":"kind","equal":"pcm"}}],"mark":{"type":"text","align":"left","baseline":"middle","fontSize":7.5,"dx":14.5,"color":"#000"},
"encoding":{"text":{"field":"rest"}}},
{"data":{"name":"p3tag"},"mark":{"type":"text","align":"center","baseline":"middle","fontSize":5,"color":"#000"},
"encoding":{"text":{"field":"label"}}}
]},
{"width":197,"height":147,
"encoding":{
"x":{"field":"t","type":"quantitative","scale":{"domain":[0,4000],"nice":false},"axis":{"title":"Time (s)","values":[0,1000,2000,3000,4000],"format":"d"}},
"y":{"field":"v","type":"quantitative","scale":{"domain":[290,340],"nice":false,"zero":false},"axis":{"title":"Temperature (K)","values":[290,300,310,320,330,340],"titlePadding":6.5}}},
"layer":[
{"data":{"name":"p4"},"mark":{"type":"line","strokeWidth":1},
"encoding":{
"color":{"field":"s","type":"nominal","scale":{"domain":["mhAl","mhCu","pcmAl","pcmCu"],"range":["#000000","#1f1f85","#333333","#7b7bc8"]},"legend":null}}},
{"data":{"name":"p4"},"transform":[{"filter":{"field":"s","oneOf":["mhAl","mhCu"]}}],"mark":{"type":"point","filled":true,"size":12,"opacity":1},
"encoding":{
"color":{"field":"s","type":"nominal","scale":{"domain":["mhAl","mhCu","pcmAl","pcmCu"],"range":["#000000","#1f1f85","#333333","#7b7bc8"]},"legend":null},
"shape":{"field":"s","type":"nominal","scale":{"domain":["mhAl","mhCu"],"range":["square","circle"]},"legend":null}}},
{"data":{"name":"p4"},"transform":[{"filter":{"field":"s","oneOf":["pcmAl","pcmCu"]}}],"mark":{"type":"point","filled":false,"shape":"circle","size":14,"strokeWidth":0.7,"opacity":1},
"encoding":{
"color":{"field":"s","type":"nominal","scale":{"domain":["mhAl","mhCu","pcmAl","pcmCu"],"range":["#000000","#1f1f85","#333333","#7b7bc8"]},"legend":null}}},
{"data":{"name":"p4legline"},"mark":{"type":"rule","strokeWidth":1},
"encoding":{"x2":{"field":"t2"},
"color":{"field":"s","type":"nominal","scale":{"domain":["mhAl","mhCu","pcmAl","pcmCu"],"range":["#000000","#1f1f85","#333333","#7b7bc8"]},"legend":null}}},
{"data":{"name":"p4legpf"},"mark":{"type":"point","filled":true,"size":12,"opacity":1},
"encoding":{
"color":{"field":"s","type":"nominal","scale":{"domain":["mhAl","mhCu","pcmAl","pcmCu"],"range":["#000000","#1f1f85","#333333","#7b7bc8"]},"legend":null},
"shape":{"field":"s","type":"nominal","scale":{"domain":["mhAl","mhCu"],"range":["square","circle"]},"legend":null}}},
{"data":{"name":"p4legpo"},"mark":{"type":"point","filled":false,"shape":"circle","size":14,"strokeWidth":0.7,"opacity":1,"fill":"white","fillOpacity":1},
"encoding":{
"color":{"field":"s","type":"nominal","scale":{"domain":["mhAl","mhCu","pcmAl","pcmCu"],"range":["#000000","#1f1f85","#333333","#7b7bc8"]},"legend":null}}},
{"data":{"name":"p4head"},"mark":{"type":"text","align":"center","baseline":"middle","fontSize":8,"color":"#000"},
"encoding":{"text":{"field":"label"}}},
{"data":{"name":"p4legtext"},"mark":{"type":"text","align":"right","baseline":"middle","fontSize":8,"color":"#000"},
"encoding":{"text":{"field":"label"}}},
{"data":{"name":"p4tag"},"mark":{"type":"text","align":"center","baseline":"middle","fontSize":5,"color":"#000"},
"encoding":{"text":{"field":"label"}}}
]}
],"spacing":8,"resolve":{"scale":{"color":"independent","strokeDash":"independent","shape":"independent"}}}
]
}
